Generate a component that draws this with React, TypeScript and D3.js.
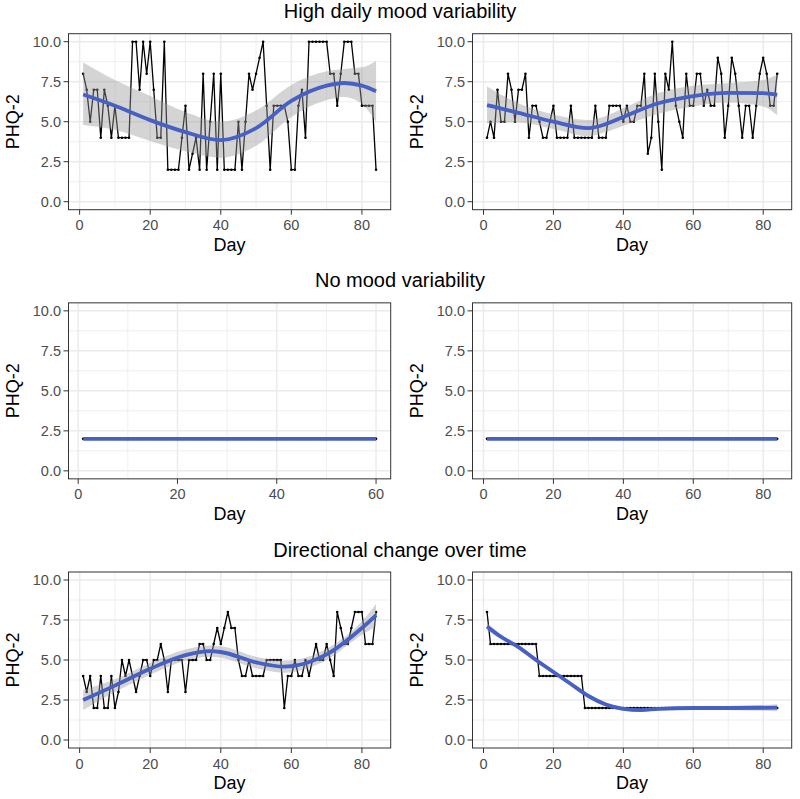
import React from "react";
import * as d3 from "d3";

// ---------- data ----------
const rowTitles = ["High daily mood variability", "No mood variability", "Directional change over time"];

const highVarA = [8,7,5,7,7,4,7,6,4,6, 4,4,4,4,10,10,7,10,8,10, 7,4,4,10,2,2,2,2,4,6, 2,3,4,2,8,2,5,8,2,8, 2,2,2,2,5,2,5,8,7,8, 9,10,6,2,6,6,6,6,5,2, 2,6,7,4,10,10,10,10,10,10, 8,8,6,8,10,10,10,8,8,6, 6,6,6,2];
const highVarB = [4,5,4,7,5,5,8,7,5,7, 7,8,4,6,6,5,4,4,5,6, 4,4,4,4,6,4,4,4,4,4, 4,6,4,4,4,6,6,6,6,5, 6,5,5,6,6,8,3,4,8,5, 2,8,7,10,6,5,4,8,6,6, 8,8,6,7,6,6,9,8,4,6, 9,8,6,4,6,6,4,6,8,9, 8,6,6,8];
const noVarA = [2,2,2,2,2,2,2,2,2,2, 2,2,2,2,2,2,2,2,2,2, 2,2,2,2,2,2,2,2,2,2, 2,2,2,2,2,2,2,2,2,2, 2,2,2,2,2,2,2,2,2,2, 2,2,2,2,2,2,2,2,2,2];
const noVarB = [2,2,2,2,2,2,2,2,2,2, 2,2,2,2,2,2,2,2,2,2, 2,2,2,2,2,2,2,2,2,2, 2,2,2,2,2,2,2,2,2,2, 2,2,2,2,2,2,2,2,2,2, 2,2,2,2,2,2,2,2,2,2, 2,2,2,2,2,2,2,2,2,2, 2,2,2,2,2,2,2,2,2,2, 2,2,2,2];
const dirA = [4,3,4,2,2,4,2,2,4,2, 3,5,4,5,4,3,4,5,5,4, 5,5,6,5,3,5,5,5,5,3, 5,5,5,6,6,5,5,6,7,6, 7,8,7,7,5,4,4,5,4,4, 4,4,5,5,5,5,5,2,4,4, 5,4,4,5,4,5,6,5,5,6, 5,4,8,7,6,6,7,8,8,8, 6,6,6,8];
const dirB = [8,6,6,6,6,6,6,6,6,6, 6,6,6,6,6,4,4,4,4,4, 4,4,4,4,4,4,4,4,2,2, 2,2,2,2,2,2,2,2,2,2, 2,2,2,2,2,2,2,2,2,2, 2,2,2,2,2,2,2,2,2,2, 2,2,2,2,2,2,2,2,2,2, 2,2,2,2,2,2,2,2,2,2, 2,2,2,2];

// smoothed fits with confidence band
const smHighA_days = [1, 10, 20, 30, 40, 50, 60, 70, 75, 80, 84];
const smHighA_fit = [6.7, 6.0, 5.1, 4.35, 3.85, 4.6, 6.3, 7.25, 7.42, 7.25, 6.9];
const smHighA_lo = [4.8, 4.5, 3.8, 3.15, 2.75, 3.5, 5.3, 6.35, 6.55, 6.1, 5.0];
const smHighA_hi = [8.7, 7.6, 6.6, 5.6, 5.0, 5.7, 7.3, 8.15, 8.3, 8.4, 8.8];

const smHighB_days = [1, 10, 20, 30, 35, 40, 50, 60, 70, 80, 84];
const smHighB_fit = [6.04, 5.55, 5.0, 4.6, 4.85, 5.3, 6.15, 6.6, 6.8, 6.78, 6.67];
const smHighB_lo = [4.9, 4.95, 4.55, 4.1, 4.35, 4.75, 5.5, 5.95, 6.2, 5.95, 5.4];
const smHighB_hi = [7.2, 6.15, 5.45, 5.1, 5.35, 5.85, 6.8, 7.25, 7.4, 7.6, 7.95];

const smNoA_days = [1, 60];
const smNoA_fit = [2, 2];
const smNoB_days = [1, 84];
const smNoB_fit = [2, 2];

const smDirA_days = [1, 10, 20, 30, 37, 40, 50, 58, 70, 80, 84];
const smDirA_fit = [2.5, 3.4, 4.45, 5.3, 5.55, 5.5, 4.85, 4.58, 5.35, 7.0, 7.8];
const smDirA_lo = [1.88, 3.0, 4.08, 4.95, 5.2, 5.14, 4.49, 4.21, 5.0, 6.58, 7.1];
const smDirA_hi = [3.12, 3.8, 4.82, 5.65, 5.9, 5.86, 5.21, 4.95, 5.7, 7.42, 8.5];

const smDirB_days = [1, 5, 10, 15, 20, 25, 30, 35, 40, 45, 50, 60, 70, 84];
const smDirB_fit = [7.1, 6.45, 5.8, 5.0, 4.25, 3.5, 2.75, 2.22, 1.95, 1.87, 1.95, 2.0, 2.0, 2.02];
const smDirB_lo = [6.85, 6.3, 5.68, 4.88, 4.13, 3.38, 2.63, 2.1, 1.83, 1.77, 1.85, 1.9, 1.88, 1.8];
const smDirB_hi = [7.35, 6.6, 5.92, 5.12, 4.37, 3.62, 2.87, 2.34, 2.07, 1.97, 2.05, 2.1, 2.12, 2.24];

const xMajor = [0, 20, 40, 60, 80];
const xMinor = [10, 30, 50, 70];
const yMajor = [0, 2.5, 5, 7.5, 10];
const yMajorLabels = ["0.0", "2.5", "5.0", "7.5", "10.0"];
const yMinor = [1.25, 3.75, 6.25, 8.75];

// ---------- layout ----------
const ROW_TOP = [0, 269.15, 538.3];
const COLS = [
  { x0: 68.5, x1: 390.7, yTitleX: 12.5 },
  { x0: 472.5, x1: 791.7, yTitleX: 416.5 },
];
const FONT = "'Liberation Sans', Arial, Helvetica, sans-serif";
const BLUE = "#4660c4";

type Smooth = { days: number[]; fit: number[]; lo?: number[]; hi?: number[] };

function Panel({ row, col, values, sm }: { row: number; col: number; values: number[]; sm: Smooth }) {
  const { x0, x1, yTitleX } = COLS[col];
  const top = ROW_TOP[row];
  const n = values.length;
  const pad = (n - 1) * 0.05;
  const x = d3.scaleLinear().domain([1 - pad, n + pad]).range([x0, x1]);
  const y = d3.scaleLinear().domain([-0.5, 10.5]).range([top + 209.7, top + 33.7]);
  const [dmin, dmax] = x.domain();
  const xMaj = xMajor.filter((t) => t >= dmin && t <= dmax);
  const xMin = xMinor.filter((t) => t >= dmin && t <= dmax);
  const pts = values.map((v, i) => [i + 1, v] as [number, number]);
  const line = d3.line<[number, number]>().x((d) => x(d[0])).y((d) => y(d[1]));
  const smPts = sm.days.map((d, i) => [d, sm.fit[i]] as [number, number]);
  const smLine = d3
    .line<[number, number]>()
    .x((d) => x(d[0]))
    .y((d) => y(d[1]))
    .curve(d3.curveMonotoneX);
  let band: string | null = null;
  if (sm.lo && sm.hi) {
    const area = d3
      .area<number>()
      .x((_, i) => x(sm.days[i]))
      .y0((_, i) => y(sm.lo![i]))
      .y1((_, i) => y(sm.hi![i]))
      .curve(d3.curveMonotoneX);
    band = area(sm.days) as string;
  }
  const [pyB, pyT] = y.range();
  const cx = (x0 + x1) / 2;
  const cy = (pyB + pyT) / 2;
  return (
    <g>
      <rect x={x0} y={pyT} width={x1 - x0} height={pyB - pyT} fill="#ffffff" />
      {xMin.map((t) => (
        <line key={"xm" + t} x1={x(t)} x2={x(t)} y1={pyT} y2={pyB} stroke="#ebebeb" strokeWidth={0.8} />
      ))}
      {yMinor.map((t) => (
        <line key={"ym" + t} x1={x0} x2={x1} y1={y(t)} y2={y(t)} stroke="#ebebeb" strokeWidth={0.8} />
      ))}
      {xMaj.map((t) => (
        <line key={"xM" + t} x1={x(t)} x2={x(t)} y1={pyT} y2={pyB} stroke="#ebebeb" strokeWidth={1.5} />
      ))}
      {yMajor.map((t) => (
        <line key={"yM" + t} x1={x0} x2={x1} y1={y(t)} y2={y(t)} stroke="#ebebeb" strokeWidth={1.5} />
      ))}
      <path d={line(pts) as string} fill="none" stroke="#000" strokeWidth={1.3} strokeLinejoin="round" />
      {pts.map((p, i) => (
        <circle key={i} cx={x(p[0])} cy={y(p[1])} r={1.3} fill="#000" />
      ))}
      {band && <path d={band} fill="#999999" fillOpacity={0.42} stroke="none" />}
      <path d={smLine(smPts) as string} fill="none" stroke={BLUE} strokeWidth={3.8} strokeLinecap="butt" />
      <rect x={x0} y={pyT} width={x1 - x0} height={pyB - pyT} fill="none" stroke="#333333" strokeWidth={1} />
      {/* y axis */}
      {yMajor.map((t, i) => (
        <g key={"yt" + t}>
          <line x1={x0 - 5} x2={x0} y1={y(t)} y2={y(t)} stroke="#333333" strokeWidth={1} />
          <text x={x0 - 7.5} y={y(t) + 5.2} textAnchor="end" fontSize={14.5} fill="#4d4d4d" fontFamily={FONT}>
            {yMajorLabels[i]}
          </text>
        </g>
      ))}
      {/* x axis */}
      {xMaj.map((t) => (
        <g key={"xt" + t}>
          <line x1={x(t)} x2={x(t)} y1={pyB} y2={pyB + 5} stroke="#333333" strokeWidth={1} />
          <text x={x(t)} y={top + 230.3} textAnchor="middle" fontSize={14.5} fill="#4d4d4d" fontFamily={FONT}>
            {t}
          </text>
        </g>
      ))}
      <text x={cx} y={top + 251} textAnchor="middle" fontSize={18} fill="#000" fontFamily={FONT}>
        Day
      </text>
      <text
        transform={`translate(${yTitleX + 6.3},${cy}) rotate(-90)`}
        textAnchor="middle"
        fontSize={18}
        fill="#000"
        fontFamily={FONT}
      >
        PHQ-2
      </text>
    </g>
  );
}

export default function App() {
  const panels: { row: number; col: number; values: number[]; sm: Smooth }[] = [
    { row: 0, col: 0, values: highVarA, sm: { days: smHighA_days, fit: smHighA_fit, lo: smHighA_lo, hi: smHighA_hi } },
    { row: 0, col: 1, values: highVarB, sm: { days: smHighB_days, fit: smHighB_fit, lo: smHighB_lo, hi: smHighB_hi } },
    { row: 1, col: 0, values: noVarA, sm: { days: smNoA_days, fit: smNoA_fit } },
    { row: 1, col: 1, values: noVarB, sm: { days: smNoB_days, fit: smNoB_fit } },
    { row: 2, col: 0, values: dirA, sm: { days: smDirA_days, fit: smDirA_fit, lo: smDirA_lo, hi: smDirA_hi } },
    { row: 2, col: 1, values: dirB, sm: { days: smDirB_days, fit: smDirB_fit, lo: smDirB_lo, hi: smDirB_hi } },
  ];
  return (
    <svg
      width={800}
      height={799}
      viewBox="0 0 800 799"
      style={{ position: "absolute", left: 0, top: 0, background: "#fff" }}
    >
      <rect x={0} y={0} width={800} height={799} fill="#fff" />
      {rowTitles.map((t, i) => (
        <text key={t} x={400} y={ROW_TOP[i] + 18.3} textAnchor="middle" fontSize={20} fill="#000" fontFamily={FONT}>
          {t}
        </text>
      ))}
      {panels.map((p, i) => (
        <Panel key={i} {...p} />
      ))}
    </svg>
  );
}
